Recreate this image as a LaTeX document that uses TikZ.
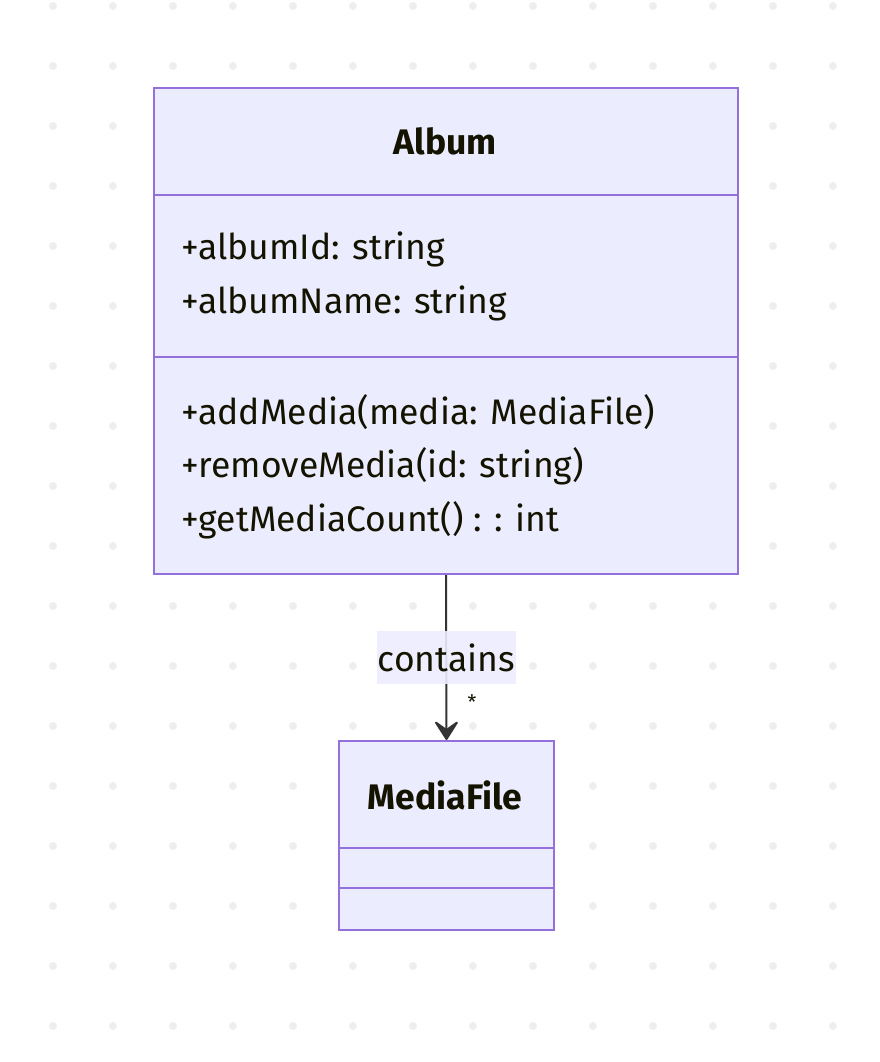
\documentclass[tikz,border=0pt]{standalone}
\usepackage{fontspec}
\usepackage{xcolor}
\usetikzlibrary{arrows.meta}
\setmainfont{Fira Sans}
\definecolor{umlfill}{HTML}{ECECFF}
\definecolor{umlpurple}{HTML}{9370DB}
\definecolor{umltext}{HTML}{131300}
\definecolor{edgegray}{HTML}{333333}
\definecolor{dotgray}{HTML}{EEEEEE}

\tikzset{
  classbox/.style={draw=umlpurple, fill=umlfill, line width=2pt, inner sep=0pt},
  divider/.style={draw=umlpurple, line width=2pt},
  member/.style={anchor=west, inner sep=0pt, text=umltext, font=\fontsize{35.5}{42}\selectfont},
  title/.style={inner sep=0pt, text=umltext, font=\fontsize{35.5}{42}\selectfont\bfseries},
  assoc/.style={draw=edgegray, line width=2pt, -{Stealth[length=22pt, width=28pt, inset=10pt, round]}}
}

\begin{document}
\begin{tikzpicture}[x=1pt, y=-1pt]
	\useasboundingbox (0,0) rectangle (880,1062);
	\foreach \x in {53,113,...,833} {
		\foreach \y in {6,66,...,1026} {
			\fill[dotgray] (\x,\y) circle (4);
		}
	}
	% Album class
	\node[classbox, anchor=north west, minimum width=584pt, minimum height=486pt] (album) at (153,87) {};
	\draw[divider] (153,195) -- (737,195);
	\draw[divider] (153,357) -- (737,357);
	\node[title] (albumname) at (445,141) {Album};
	\node[member] (albumid) at (181,249) {+albumId: string};
	\node[member] (albumnm) at (181,303) {+albumName: string};
	\node[member] (addmedia) at (181,412) {+addMedia(media: MediaFile)};
	\node[member] (rmmedia) at (181,466) {+removeMedia(id: string)};
	\node[member] (getcount) at (181,520) {+getMediaCount() : : int};
	% MediaFile class
	\node[classbox, anchor=north west, minimum width=215pt, minimum height=189pt] (media) at (338,740) {};
	\draw[divider] (338,848) -- (553,848);
	\draw[divider] (338,888) -- (553,888);
	\node[title] (medianame) at (445,795) {MediaFile};
	% association
	\draw[assoc] (album.south) -- (media.north)
		node[midway, fill=umlfill, fill opacity=0.9, text opacity=1, text=umltext, inner xsep=1pt, inner ysep=0pt, minimum height=53pt, font=\fontsize{35.5}{42}\selectfont] (contains) {contains};
	\node[text=umltext, font=\fontsize{20}{24}\selectfont] (mult) at (472,702) {*};
\end{tikzpicture}
\end{document}
